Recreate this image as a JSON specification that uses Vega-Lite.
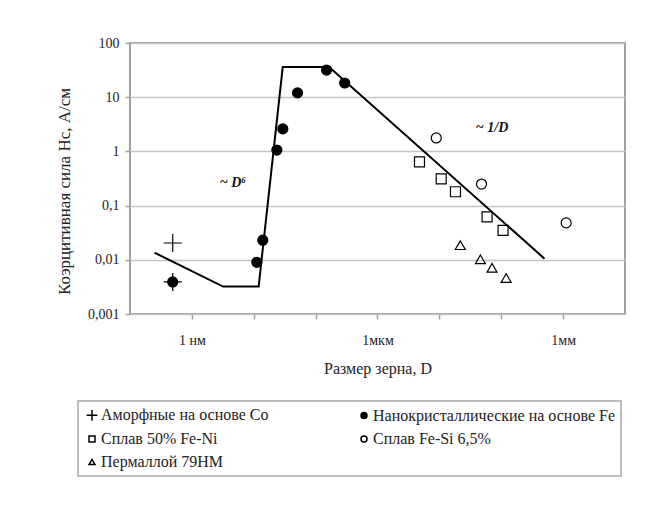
{
  "$schema": "https://vega.github.io/schema/vega-lite/v6.json",
  "width": 495,
  "height": 271,
  "autosize": {"type": "none"},
  "padding": {"left": 130, "top": 43, "right": 36, "bottom": 198},
  "background": "white",
  "config": {
    "view": {"stroke": "#a0a0a0", "strokeWidth": 2},
    "font": "Liberation Serif",
    "legend": {"strokeWidth": 2, "strokeColor": "#bdbdbd", "fillColor": "white"}
  },
  "datasets": {
    "pts": [
      {"series": "Нанокристаллические на основе Fe", "D": 0.49, "Hc": 0.0039},
      {"series": "Аморфные на основе Co", "D": 0.49, "Hc": 0.0204},
      {"series": "Аморфные на основе Co", "D": 0.49, "Hc": 0.0039},
      {"series": "Нанокристаллические на основе Fe", "D": 11.2, "Hc": 0.009},
      {"series": "Нанокристаллические на основе Fe", "D": 14, "Hc": 0.023},
      {"series": "Нанокристаллические на основе Fe", "D": 23.6, "Hc": 1.06},
      {"series": "Нанокристаллические на основе Fe", "D": 29.5, "Hc": 2.6},
      {"series": "Нанокристаллические на основе Fe", "D": 51, "Hc": 12},
      {"series": "Нанокристаллические на основе Fe", "D": 150, "Hc": 31.7},
      {"series": "Нанокристаллические на основе Fe", "D": 295, "Hc": 18.3},
      {"series": "Сплав 50% Fe-Ni", "D": 4770, "Hc": 0.64},
      {"series": "Сплав 50% Fe-Ni", "D": 10700, "Hc": 0.31},
      {"series": "Сплав 50% Fe-Ni", "D": 18200, "Hc": 0.18},
      {"series": "Сплав 50% Fe-Ni", "D": 59000, "Hc": 0.062},
      {"series": "Сплав 50% Fe-Ni", "D": 107000, "Hc": 0.035},
      {"series": "Сплав Fe-Si 6,5%", "D": 8900, "Hc": 1.77},
      {"series": "Сплав Fe-Si 6,5%", "D": 48000, "Hc": 0.25},
      {"series": "Сплав Fe-Si 6,5%", "D": 1120000, "Hc": 0.048},
      {"series": "Пермаллой 79НМ", "D": 21800, "Hc": 0.0186},
      {"series": "Пермаллой 79НМ", "D": 46000, "Hc": 0.0102},
      {"series": "Пермаллой 79НМ", "D": 71000, "Hc": 0.0071},
      {"series": "Пермаллой 79НМ", "D": 120000, "Hc": 0.0046}
    ],
    "fit": [
      {"D": 0.25, "Hc": 0.0135},
      {"D": 3.2, "Hc": 0.0032},
      {"D": 12, "Hc": 0.0032},
      {"D": 29.4, "Hc": 36},
      {"D": 165, "Hc": 36},
      {"D": 500000, "Hc": 0.0105}
    ],
    "notes": [
      {"D": 4.6, "Hc": 0.26, "label": "~ D⁶"},
      {"D": 71000, "Hc": 2.7, "label": "~ 1/D"}
    ]
  },
  "layer": [
    {
      "data": {"name": "fit"},
      "mark": {"type": "line", "color": "black", "strokeWidth": 2},
      "encoding": {
        "x": {
          "field": "D", "type": "quantitative",
          "scale": {"type": "log", "domain": [0.1, 10000000]},
          "axis": {
            "title": "Размер зерна, D",
            "values": [1, 10, 100, 1000, 10000, 100000, 1000000],
            "labelExpr": "datum.value == 1 ? '1 нм' : datum.value == 1000 ? '1мкм' : datum.value == 1000000 ? '1мм' : ''",
            "grid": false,
            "domain": false,
            "tickColor": "#a0a0a0",
            "tickSize": 5,
            "tickWidth": 1.5,
            "labelPadding": 14,
            "labelDx": 8,
            "labelFont": "Liberation Serif",
            "labelFontSize": 14,
            "labelColor": "#222",
            "titleFont": "Liberation Serif",
            "titleFontSize": 16,
            "titleFontWeight": "normal",
            "titleColor": "#222",
            "titlePadding": 13
          }
        },
        "y": {
          "field": "Hc", "type": "quantitative",
          "scale": {"type": "log", "domain": [0.001, 100]},
          "axis": {
            "title": "Коэрцитивная сила Hc, А/см",
            "values": [0.001, 0.01, 0.1, 1, 10, 100],
            "labelExpr": "datum.value < 0.005 ? '0,001' : datum.value < 0.05 ? '0,01' : datum.value < 0.5 ? '0,1' : datum.value < 5 ? '1' : datum.value < 50 ? '10' : '100'",
            "grid": true,
            "gridColor": "#c4c4c4",
            "gridWidth": 1.5,
            "domain": false,
            "tickColor": "#a0a0a0",
            "tickSize": 5,
            "tickWidth": 1.5,
            "labelPadding": 6,
            "labelFont": "Liberation Serif",
            "labelFontSize": 14,
            "labelColor": "#222",
            "titleFont": "Liberation Serif",
            "titleFontSize": 17,
            "titleFontWeight": "normal",
            "titleColor": "#222",
            "titlePadding": 14,
            "titleY": 148
          }
        }
      }
    },
    {
      "data": {"name": "pts"},
      "mark": {"type": "point", "filled": true, "stroke": "black", "strokeWidth": 1.2, "opacity": 1, "size": 100},
      "encoding": {
        "x": {"field": "D", "type": "quantitative", "scale": {"type": "log", "domain": [0.1, 10000000]}},
        "y": {"field": "Hc", "type": "quantitative", "scale": {"type": "log", "domain": [0.001, 100]}},
        "shape": {
          "field": "series", "type": "nominal",
          "scale": {
            "domain": ["Аморфные на основе Co", "Нанокристаллические на основе Fe", "Сплав 50% Fe-Ni", "Сплав Fe-Si 6,5%", "Пермаллой 79НМ"],
            "range": ["M-1.8,0H1.8M0,-1.8V1.8", "circle", "square", "circle", "triangle-up"]
          },
          "legend": {
            "title": null,
            "orient": "none",
            "direction": "horizontal",
            "legendX": -52,
            "legendY": 358,
            "columns": 2,
            "columnPadding": 87,
            "rowPadding": 7,
            "padding": 6,
            "gridAlign": "each",
            "strokeColor": "#bdbdbd",
            "fillColor": "white",
            "labelFont": "Liberation Serif",
            "labelFontSize": 16,
            "labelColor": "#222",
            "labelLimit": 400,
            "labelOffset": 1,
            "symbolSize": 36,
            "encode": {"symbols": {"update": {"size": {"value": 36}, "stroke": {"value": "black"}, "strokeWidth": {"value": 1.2}}}}
          }
        },
        "fill": {
          "field": "series", "type": "nominal",
          "scale": {
            "domain": ["Аморфные на основе Co", "Нанокристаллические на основе Fe", "Сплав 50% Fe-Ni", "Сплав Fe-Si 6,5%", "Пермаллой 79НМ"],
            "range": ["transparent", "black", "transparent", "transparent", "transparent"]
          },
          "legend": {
            "title": null,
            "orient": "none",
            "direction": "horizontal",
            "legendX": -52,
            "legendY": 358,
            "columns": 2,
            "columnPadding": 87,
            "rowPadding": 7,
            "padding": 6,
            "gridAlign": "each",
            "strokeColor": "#bdbdbd",
            "fillColor": "white",
            "labelFont": "Liberation Serif",
            "labelFontSize": 16,
            "labelColor": "#222",
            "labelLimit": 400,
            "labelOffset": 1,
            "symbolSize": 36,
            "encode": {"symbols": {"update": {"size": {"value": 36}, "stroke": {"value": "black"}, "strokeWidth": {"value": 1.2}}}}
          }
        }
      }
    },
    {
      "data": {"name": "notes"},
      "mark": {"type": "text", "font": "Liberation Serif", "fontSize": 14, "fontStyle": "italic", "fontWeight": "bold", "color": "#111", "align": "center", "baseline": "middle"},
      "encoding": {
        "x": {"field": "D", "type": "quantitative", "scale": {"type": "log", "domain": [0.1, 10000000]}},
        "y": {"field": "Hc", "type": "quantitative", "scale": {"type": "log", "domain": [0.001, 100]}},
        "text": {"field": "label"}
      }
    }
  ]
}
